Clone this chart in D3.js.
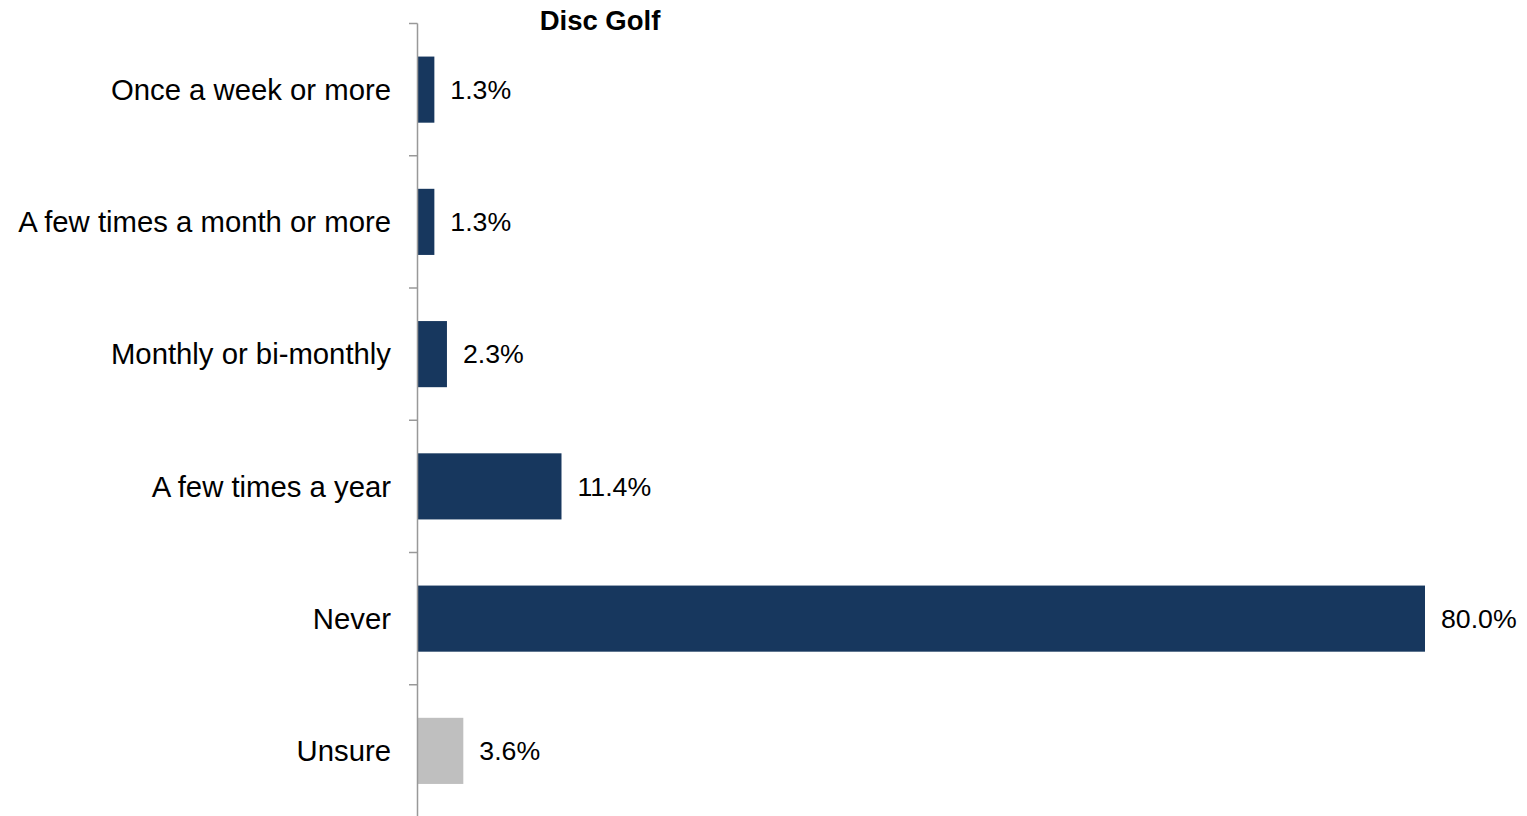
<!DOCTYPE html>
<html><head><meta charset="utf-8">
<script src="https://cdn.jsdelivr.net/npm/d3@7"></script>
<style>body{margin:0;background:#fff}svg{display:block}</style>
</head><body>
<svg id="c" width="1527" height="816"></svg>
<script>
const categories = ["Once a week or more","A few times a month or more","Monthly or bi-monthly","A few times a year","Never","Unsure"];
const values = [1.3, 1.3, 2.3, 11.4, 80.0, 3.6];
const barColors = ["#17375E","#17375E","#17375E","#17375E","#17375E","#BFBFBF"];
const title = "Disc Golf";

const svg = d3.select("#c");
const font = "'Liberation Sans', Arial, sans-serif";
const top0 = 23.5, bot0 = 817;
const x = d3.scaleLinear().domain([0, 80]).range([418, 1425]);
const y = d3.scaleBand().domain(categories).range([top0, bot0]).paddingInner(0.5).paddingOuter(0.25);

// bars
svg.selectAll("rect.bar").data(categories).join("rect")
  .attr("x", x(0)).attr("y", d => y(d))
  .attr("width", (d,i) => x(values[i]) - x(0))
  .attr("height", y.bandwidth())
  .attr("fill", (d,i) => barColors[i]);

// axis line and ticks at band boundaries
const n = categories.length;
const bounds = d3.range(n + 1).map(i => top0 + i * ((bot0 - top0) / n));
svg.append("line").attr("x1", 417.5).attr("x2", 417.5).attr("y1", top0).attr("y2", 816)
  .attr("stroke", "#999").attr("stroke-width", 1.5);
svg.selectAll("line.tick").data(bounds).join("line")
  .attr("x1", 409).attr("x2", 417.5).attr("y1", d => d).attr("y2", d => d)
  .attr("stroke", "#999").attr("stroke-width", 1.5);

// category labels
svg.selectAll("text.cat").data(categories).join("text")
  .attr("x", 391).attr("y", d => y(d) + y.bandwidth()/2)
  .attr("dy", "0.35em").attr("text-anchor", "end")
  .attr("font-family", font).attr("font-size", 29.3).attr("fill", "#000")
  .text(d => d);

// value labels
svg.selectAll("text.val").data(categories).join("text")
  .attr("x", (d,i) => x(values[i]) + 16).attr("y", d => y(d) + y.bandwidth()/2)
  .attr("dy", "0.35em")
  .attr("font-family", font).attr("font-size", 26.7).attr("fill", "#000")
  .text((d,i) => values[i].toFixed(1) + "%");

svg.append("text").attr("x", 600).attr("y", 30).attr("text-anchor", "middle")
  .attr("font-family", font).attr("font-size", 27.5).attr("font-weight", "bold")
  .text(title);
</script>
</body></html>
